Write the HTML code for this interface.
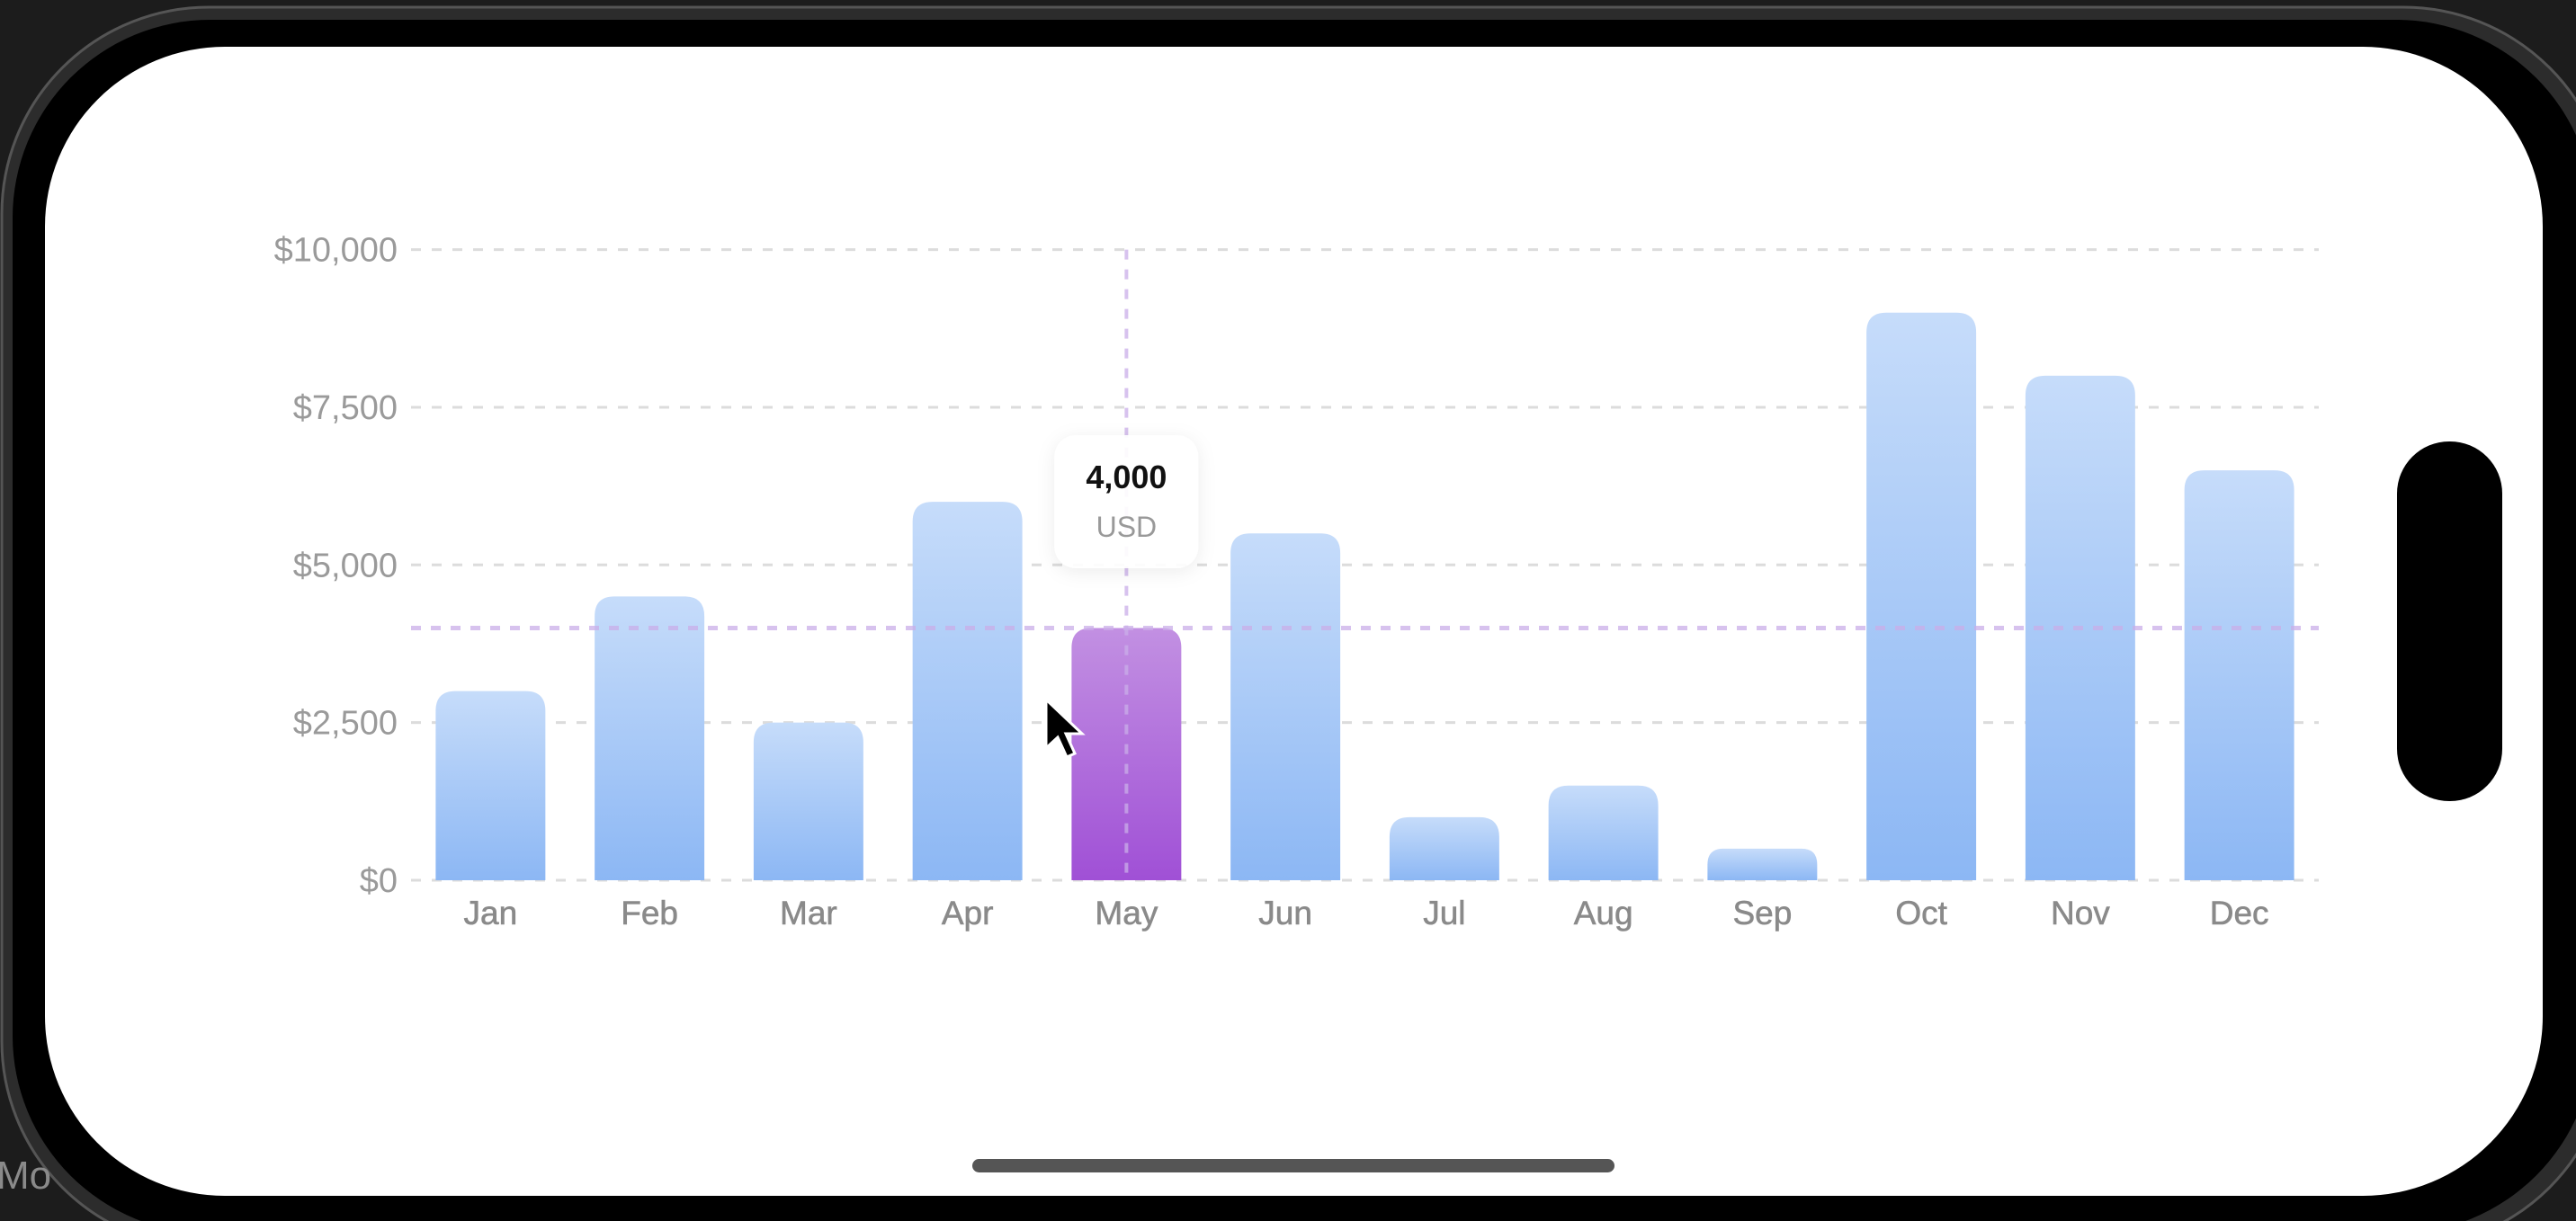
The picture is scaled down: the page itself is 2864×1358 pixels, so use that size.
<!DOCTYPE html>
<html><head><meta charset="utf-8"><style>
html,body{margin:0;padding:0;width:2864px;height:1358px;overflow:hidden;background:#1c1c1c;font-family:"Liberation Sans",sans-serif}
</style></head><body>
<svg id="root" width="2864" height="1358" viewBox="0 0 2864 1358" xmlns="http://www.w3.org/2000/svg">
<defs>
<linearGradient id="gb" x1="0" y1="0" x2="0" y2="1"><stop offset="0" stop-color="#c6dcfa"/><stop offset="1" stop-color="#8cb7f4"/></linearGradient>
<linearGradient id="gp" x1="0" y1="0" x2="0" y2="1"><stop offset="0" stop-color="#c290e2"/><stop offset="1" stop-color="#a050d6"/></linearGradient>
<filter id="sh" x="-30%" y="-30%" width="160%" height="160%"><feDropShadow dx="0" dy="4" stdDeviation="10" flood-color="#000" flood-opacity="0.08"/></filter>
</defs>
<rect x="0" y="0" width="2864" height="1358" fill="#1c1c1c"/>
<rect x="2" y="8" width="2900" height="1380" rx="230" fill="#2c2c2c" stroke="#555" stroke-width="3"/>
<rect x="14" y="22" width="2870" height="1350" rx="220" fill="#000"/>
<rect x="50" y="52" width="2777" height="1278" rx="200" fill="#fff"/>
<rect x="2665" y="491" width="117" height="400" rx="58" fill="#000"/>
<rect x="1081" y="1289" width="714" height="15" rx="7.5" fill="#555"/>
<text x="-4" y="1322" font-size="44" fill="#8a8a8a">Mo</text>
<g id="chart"></g>
</svg>
<script>
const months=["Jan","Feb","Mar","Apr","May","Jun","Jul","Aug","Sep","Oct","Nov","Dec"];
const values=[3000,4500,2500,6000,4000,5500,1000,1500,500,9000,8000,6500];
const yTicks=[0,2500,5000,7500,10000];
const yTickLabels=["$0","$2,500","$5,000","$7,500","$10,000"];
const selectedIndex=4;
const selectedLabel="4,000";
const selectedUnit="USD";

const NS="http://www.w3.org/2000/svg";
const L=457,R=2578,T=277.6,B=979,YMAX=10000;
const band=(R-L)/months.length;
const y=v=>B-(v/YMAX)*(B-T);
const xc=i=>L+band*(i+0.5);
const g=document.getElementById('chart');
function mk(tag,attrs,parent){const e=document.createElementNS(NS,tag);for(const k in attrs)e.setAttribute(k,attrs[k]);(parent||g).appendChild(e);return e;}

yTicks.forEach((t,i)=>{
  const ln=mk('line',{x1:L,x2:R,y1:y(t),y2:y(t),stroke:'#dcdcdc','stroke-width':3,'stroke-dasharray':'11 12'});
  
  
  const tx=mk('text',{x:442,y:y(t)+13,'text-anchor':'end','font-size':38,fill:'#9a9a9a'});
  tx.textContent=yTickLabels[i];
  
  
});

const bw=band*0.69,r=22;
values.forEach((v,i)=>{
  const x0=xc(i)-bw/2,x1=xc(i)+bw/2,yt=y(v),rr=Math.min(r,(B-yt)/2);
  const d=`M${x0},${B}V${yt+rr}Q${x0},${yt} ${x0+rr},${yt}H${x1-rr}Q${x1},${yt} ${x1},${yt+rr}V${B}Z`;
  const p=mk('path',{d:d,fill:i===selectedIndex?'url(#gp)':'url(#gb)'});
  
  
  const tx=mk('text',{x:xc(i),y:1028,'text-anchor':'middle','font-size':37,fill:'#8a8a8a',stroke:'#8a8a8a','stroke-width':0.6});
  tx.textContent=months[i];
  
  
});

const sv=values[selectedIndex];
const hl=mk('line',{x1:L,x2:R,y1:y(sv),y2:y(sv),stroke:'#c9aee8','stroke-opacity':0.75,'stroke-width':5,'stroke-dasharray':'11 11'});


const vl=mk('line',{x1:xc(selectedIndex),x2:xc(selectedIndex),y1:T,y2:B,stroke:'#c9aee8','stroke-opacity':0.75,'stroke-width':4,'stroke-dasharray':'11 11'});



const tg=mk('g',{});


const tb=mk('rect',{x:xc(selectedIndex)-80,y:484,width:160,height:148,rx:24,fill:'#fff','fill-opacity':0.93,filter:'url(#sh)'},tg);


const t1=mk('text',{x:xc(selectedIndex),y:543,'text-anchor':'middle','font-size':36,'font-weight':'bold',fill:'#111'},tg);
t1.textContent=selectedLabel;


const t2=mk('text',{x:xc(selectedIndex),y:597,'text-anchor':'middle','font-size':32,fill:'#999'},tg);
t2.textContent=selectedUnit;



const cur=mk('path',{d:'M1163,778 L1163,832 L1176,820 L1186,842 L1195,838 L1185,816 L1203,816 Z',fill:'#000',stroke:'#fff','stroke-width':3});


</script>
</body></html>
